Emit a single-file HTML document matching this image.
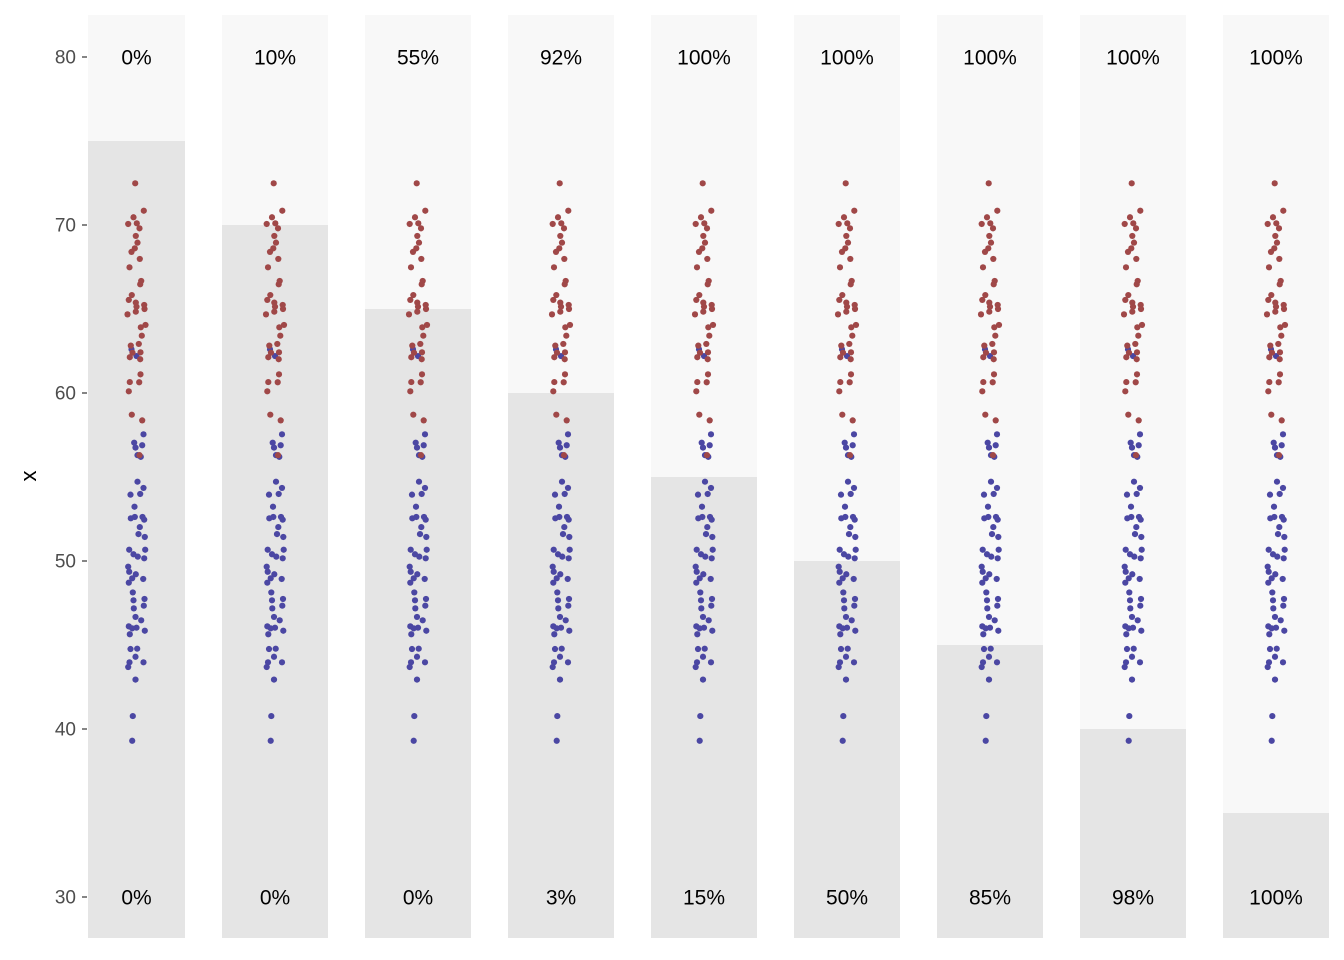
<!DOCTYPE html>
<html><head><meta charset="utf-8">
<style>
html,body{margin:0;padding:0;background:#fff;}
svg{display:block;font-family:"Liberation Sans",Arial,sans-serif;}
</style></head>
<body>
<svg id="chart" width="1344" height="960" viewBox="0 0 1344 960" xmlns="http://www.w3.org/2000/svg"></svg>
<script>
const thresholds = [75,70,65,60,55,50,45,40,35];
const topLabels = ["0%","10%","55%","92%","100%","100%","100%","100%","100%"];
const bottomLabels = ["0%","0%","0%","3%","15%","50%","85%","98%","100%"];
const yTicks = [30,40,50,60,70,80];
const redValues = [72.48,70.85,70.46,70.06,70.1,69.8,69.35,68.95,68.61,68.4,67.98,67.48,66.67,66.47,65.83,65.54,65.38,65.14,65.24,65.0,64.68,64.84,64.05,63.91,63.41,62.92,62.82,62.42,62.13,62.01,61.11,60.64,60.65,60.1,58.71,58.37,56.3,62.4];
const redJitter = [-1.3,7.3,-3,-8.3,0.3,3,-0.7,1,-1.7,-5,3.3,-7,4.7,3.7,-4.7,-7.7,-0.7,0,7.7,8,-9,-0.7,9,4.3,5.3,2.3,-5.7,4,-6.7,3.7,4,2.7,-6.7,-7.7,-4.7,5.7,3,-4];
const blueValues = [62.6,62.2,57.54,57.04,56.89,56.75,56.3,56.2,54.72,54.35,53.95,53.99,53.23,52.54,52.62,52.62,52.46,52.02,51.6,51.43,50.67,50.4,50.67,50.26,50.16,49.66,49.36,49.21,48.97,48.93,48.71,48.13,47.66,47.74,47.34,47.18,46.67,46.47,46.11,46.03,45.99,45.85,45.64,44.76,44.78,44.3,43.97,43.97,43.69,42.94,40.77,39.3];
const blueJitter = [-5,0,7,-2.3,5.7,-1,1,4.3,1,7,-6,3.7,-2,-5.7,-1.7,6,7.7,3.3,2,8.3,-7.3,-3,8.7,1.3,7.7,-8.3,-7.3,-0.7,-4.3,6.7,-7.7,-3.7,-3,8,7.3,-2.7,-1,4.7,-7.7,0,-4.3,8.3,-6.7,-6,0.7,-1,-7,7,-8.3,-1,-3.7,-4.3];

const NS = "http://www.w3.org/2000/svg";
const svg = document.getElementById("chart");
const panelLeft = [88,222,365,508,651,794,937,1080,1223];
const panelWidth = [97,106,106,106,106,106,106,106,106];
const panelTop = 15, panelBottom = 938;
function yScale(v){ return 57 + (80 - v) * 16.8; }
function mk(tag, attrs){ const e=document.createElementNS(NS,tag); for(const k in attrs) e.setAttribute(k,attrs[k]); svg.appendChild(e); return e; }

// y axis
yTicks.forEach(t=>{
  const y=yScale(t);
  const tick=mk("line",{x1:82,x2:87,y1:y,y2:y,stroke:"#333","stroke-width":1.2});
  
  
  const lab=mk("text",{x:76,y:y+6.5,"text-anchor":"end","font-size":19,fill:"#4d4d4d"});
  lab.textContent=t;
  
  
});
const yt=mk("text",{x:0,y:0,transform:"translate(36,476) rotate(-90)","text-anchor":"middle","font-size":22,fill:"#000"});
yt.textContent="x";



thresholds.forEach((th,i)=>{
  const x0=panelLeft[i], w=panelWidth[i], cx=x0+w/2;
  const bg=mk("rect",{x:x0,y:panelTop,width:w,height:panelBottom-panelTop,fill:"#f8f8f8"});
  
  
  const ty=Math.max(panelTop,yScale(th));
  const r=mk("rect",{x:x0,y:ty,width:w,height:panelBottom-ty,fill:"#e5e5e5"});
  
  
  blueValues.forEach((v,j)=>{
    const c=mk("circle",{cx:cx+blueJitter[j],cy:yScale(v),r:3.1,fill:"#4b47a3"});
    
    
  });
  redValues.forEach((v,j)=>{
    const c=mk("circle",{cx:cx+redJitter[j],cy:yScale(v),r:3.1,fill:"#a04848"});
    
    
  });
  const t1=mk("text",{x:cx,y:yScale(80)+7.5,"text-anchor":"middle","font-size":21,fill:"#000"});
  t1.textContent=topLabels[i];
  
  
  const t2=mk("text",{x:cx,y:yScale(30)+7.5,"text-anchor":"middle","font-size":21,fill:"#000"});
  t2.textContent=bottomLabels[i];
  
  
});
</script>
</body></html>
